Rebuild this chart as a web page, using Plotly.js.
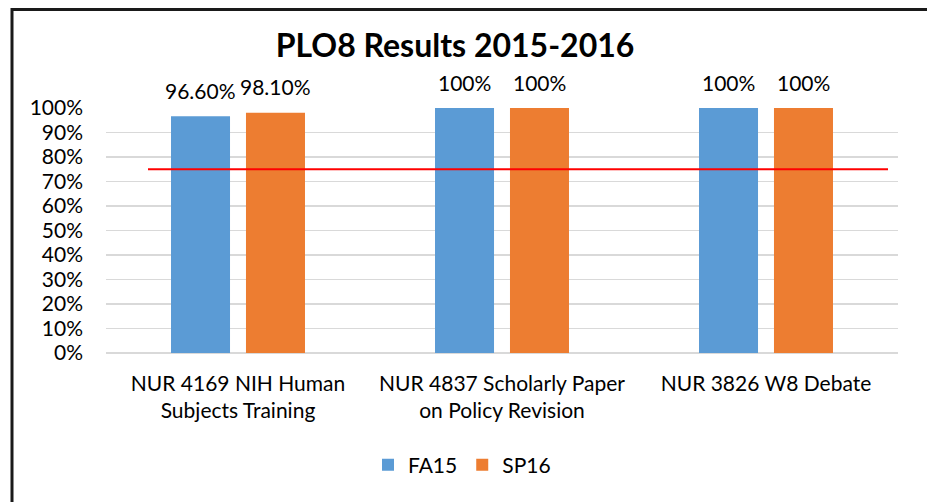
<!DOCTYPE html>
<html>
<head>
<meta charset="utf-8">
<script src="https://cdn.plot.ly/plotly-3.0.1.min.js"></script>
<style>
html,body{margin:0;padding:0;background:#fff;}
#chart{width:927px;height:502px;}
</style>
</head>
<body>
<div id="chart"></div>
<script>
const categories = ["NUR 4169 NIH Human<br>Subjects Training", "NUR 4837 Scholarly Paper<br>on Policy Revision", "NUR 3826 W8 Debate"];
const fa15 = [0.966, 1.0, 1.0];
const sp16 = [0.981, 1.0, 1.0];
const fa15Labels = ["96.60%", "100%", "100%"];
const sp16Labels = ["98.10%", "100%", "100%"];
const target = 0.75;
const yTicks = [0, 0.1, 0.2, 0.3, 0.4, 0.5, 0.6, 0.7, 0.8, 0.9, 1.0];

const FONT = "Lato, 'Open Sans', sans-serif";
const BLUE = "#5B9BD5", ORANGE = "#ED7D31";
const FS = 21;

const traces = [
  {type: "bar", name: "FA15", x: categories, y: fa15, marker: {color: BLUE}, hoverinfo: "none"},
  {type: "bar", name: "SP16", x: categories, y: sp16, marker: {color: ORANGE}, hoverinfo: "none"}
];

const annotations = [];
categories.forEach((c, i) => {
  annotations.push({x: c, y: fa15[i], xref: "x", yref: "y", text: fa15Labels[i], showarrow: false,
    xshift: -37.5, yshift: 26, yanchor: "middle", font: {family: FONT, size: FS, color: "#000"}});
  annotations.push({x: c, y: sp16[i], xref: "x", yref: "y", text: sp16Labels[i], showarrow: false,
    xshift: 37.5, yshift: 26, yanchor: "middle", font: {family: FONT, size: FS, color: "#000"}});
});

const L = 106, R = 29, T = 108, B = 149, W = 927, H = 502;
const pw = W - L - R, ph = H - T - B;
const px = v => (v - L) / pw;
const py = v => (H - B - v) / ph;

const layout = {
  width: W, height: H,
  margin: {l: L, r: R, t: T, b: B, pad: 0},
  paper_bgcolor: "#fff", plot_bgcolor: "#fff",
  font: {family: FONT, size: FS, color: "#000"},
  title: {text: "<b>PLO8 Results 2015-2016</b>", font: {family: FONT, size: 32, color: "#000"},
    x: px(455), xref: "paper", xanchor: "center", y: 1 - 46 / H, yanchor: "middle"},
  barmode: "group", bargap: 0.432, bargroupgap: 0.213,
  xaxis: {type: "category", showgrid: false, showline: false, zeroline: false, ticks: "",
    tickfont: {family: FONT, size: FS, color: "#000"}, ticklabelstandoff: 16},
  yaxis: {range: [0, 1.0], tickvals: yTicks, tickformat: ".0%", showgrid: true, gridcolor: "#d9d9d9", gridwidth: 1.5,
    zeroline: true, zerolinecolor: "#d9d9d9", zerolinewidth: 1.5, showline: false, ticks: "",
    tickfont: {family: FONT, size: FS, color: "#000"}, ticklabelstandoff: 22, fixedrange: true},
  showlegend: true,
  legend: {orientation: "h", x: px(462), xanchor: "center", y: py(465), yanchor: "middle",
    font: {family: FONT, size: FS, color: "#000"}, itemwidth: 30, traceorder: "normal", bgcolor: "rgba(0,0,0,0)"},
  annotations: annotations,
  shapes: [
    {type: "line", xref: "paper", yref: "y", x0: px(148), x1: px(888), y0: target, y1: target,
      line: {color: "#FF0000", width: 2}},
    {type: "line", xref: "paper", yref: "paper", x0: px(12), x1: px(940), y0: py(9.5), y1: py(9.5),
      line: {color: "#1a1a1a", width: 3}},
    {type: "line", xref: "paper", yref: "paper", x0: px(12), x1: px(12), y0: py(8), y1: py(520),
      line: {color: "#1a1a1a", width: 3}}
  ]
};

Plotly.newPlot("chart", traces, layout, {displayModeBar: false, staticPlot: true});
</script>
</body>
</html>
